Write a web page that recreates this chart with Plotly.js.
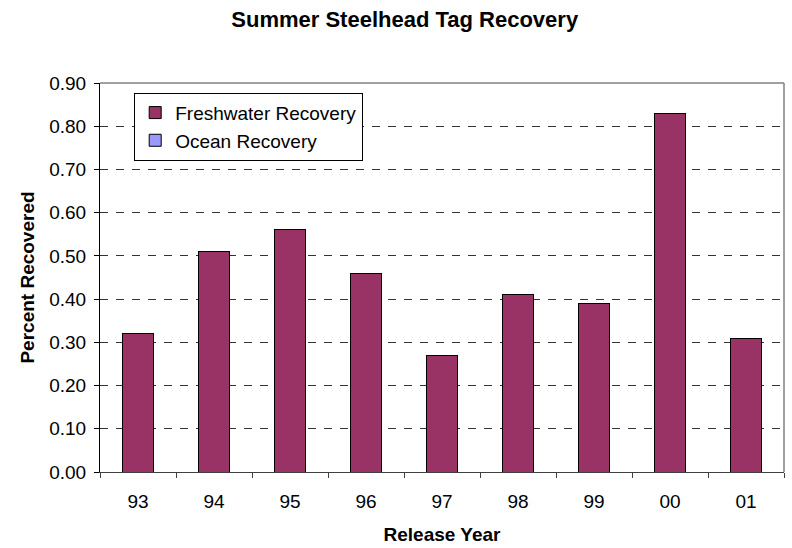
<!DOCTYPE html>
<html>
<head>
<meta charset="utf-8">
<script src="https://cdn.plot.ly/plotly-3.0.1.min.js"></script>
<style>html,body{margin:0;padding:0;background:#fff;}#chart{width:792px;height:548px;}</style>
</head>
<body>
<div id="chart"></div>
<script>
const releaseYears = ['93', '94', '95', '96', '97', '98', '99', '00', '01'];
const freshwaterRecovery = [0.32, 0.51, 0.56, 0.46, 0.27, 0.41, 0.39, 0.83, 0.31];
const oceanRecovery = [null, null, null, null, null, null, null, null, null];
const yTicks = [0, 0.1, 0.2, 0.3, 0.4, 0.5, 0.6, 0.7, 0.8, 0.9];

const FONT = '"Liberation Sans", Arial, sans-serif';

const traces = [
  {
    type: 'bar', name: 'Freshwater Recovery', x: releaseYears, y: freshwaterRecovery,
    marker: {color: '#993366', line: {color: '#000000', width: 1}}
  },
  {
    type: 'bar', name: 'Ocean Recovery', x: releaseYears, y: oceanRecovery,
    marker: {color: '#9999FF', line: {color: '#000000', width: 1}}
  }
];

const layout = {
  width: 792, height: 548,
  margin: {l: 100, r: 8, t: 83, b: 76, pad: 0},
  paper_bgcolor: '#ffffff', plot_bgcolor: '#ffffff',
  font: {family: FONT, color: '#000000', size: 19},
  barmode: 'stack', bargap: 0.59,
  title: {
    text: '<b>Summer Steelhead Tag Recovery</b>',
    font: {family: FONT, size: 22, color: '#000000'},
    xref: 'container', x: 0.511, xanchor: 'center',
    yref: 'container', y: 0.965, yanchor: 'middle'
  },
  xaxis: {
    type: 'category',
    showline: true, linecolor: '#404040', linewidth: 1,
    ticks: 'outside', tickson: 'boundaries', ticklen: 5, tickcolor: '#404040',
    showgrid: false, zeroline: false,
    tickfont: {family: FONT, size: 19},
    ticklabelstandoff: 12,
    title: {text: '<b>Release Year</b>', font: {family: FONT, size: 19}, standoff: 16}
  },
  yaxis: {
    range: [0, 0.9], tickvals: yTicks, tickformat: '.2f',
    showline: true, linecolor: '#000000', linewidth: 1,
    ticks: 'outside', ticklen: 5, tickcolor: '#000000',
    showgrid: true, gridcolor: '#333333', gridwidth: 1, griddash: '8px,8px',
    zeroline: false,
    ticklabelstandoff: 4,
    tickfont: {family: FONT, size: 19},
    title: {text: '<b>Percent Recovered</b>', font: {family: FONT, size: 19}, standoff: 9}
  },
  shapes: [
    {type: 'line', xref: 'paper', yref: 'paper', x0: 0, x1: 1, y0: 1, y1: 1, line: {color: '#808080', width: 1.5}},
    {type: 'line', xref: 'paper', yref: 'paper', x0: 1, x1: 1, y0: 0, y1: 1, line: {color: '#808080', width: 1.5}}
  ],
  showlegend: true,
  legend: {
    x: 0.05, y: 0.975, xanchor: 'left', yanchor: 'top',
    bgcolor: '#ffffff', bordercolor: '#000000', borderwidth: 1,
    font: {family: FONT, size: 19, color: '#000000'},
    traceorder: 'normal', itemwidth: 30
  }
};

Plotly.newPlot('chart', traces, layout, {displayModeBar: false, staticPlot: true});
</script>
</body>
</html>
